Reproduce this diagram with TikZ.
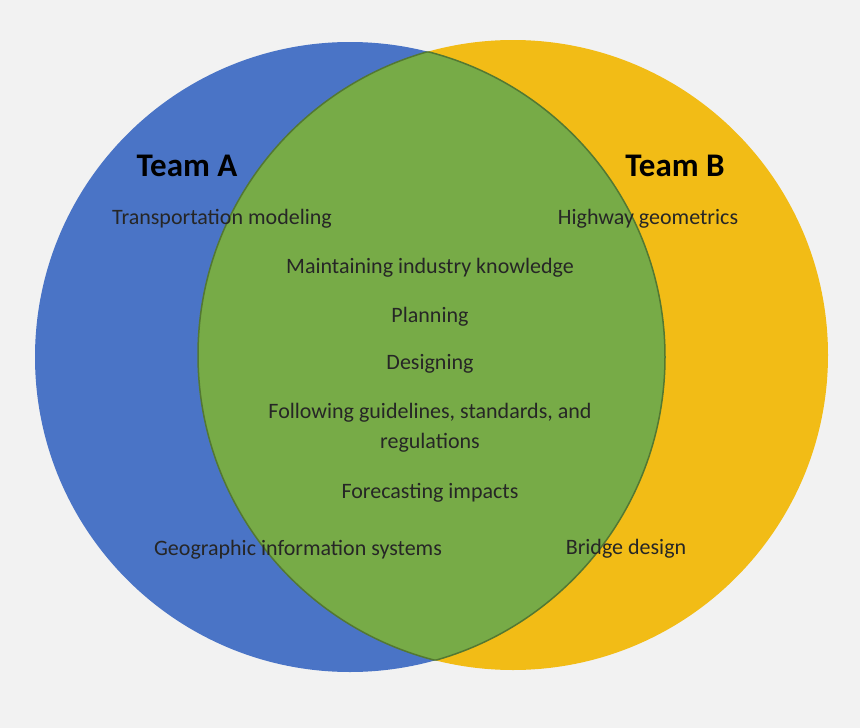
\documentclass[tikz,border=0pt]{standalone}
\usepackage{fontspec}
\setmainfont{Carlito}
\definecolor{bgGray}{HTML}{F2F2F2}
\definecolor{teamBlue}{HTML}{4A74C6}
\definecolor{teamYellow}{HTML}{F2BC16}
\definecolor{shareGreen}{HTML}{77AB47}
\tikzset{
  item/.style={font=\fontsize{22}{26}\selectfont, text=black!85},
  team/.style={font=\fontsize{33}{38}\selectfont\bfseries, text=black}
}
\begin{document}
\begin{tikzpicture}[x=1pt,y=-1pt]

	% Background
	\fill[bgGray] (0,0) rectangle (860,728);
	\useasboundingbox (0,0) rectangle (860,728);
	% Two circles
	\fill[teamYellow] (513,355) circle (315);
	\fill[teamBlue] (350,357) circle (315);
	% Overlap
	\begin{scope}
		\clip (513,355) circle (315);
		\fill[shareGreen] (350,357) circle (315);
		\draw[shareGreen!70!black, line width=1.5] (350,357) circle (315);
	\end{scope}
	\begin{scope}
		\clip (350,357) circle (315);
		\draw[shareGreen!70!black, line width=1.5] (513,355) circle (315);
	\end{scope}
	% Team labels
	\node[team] (teamA) at (187,166) {Team A};
	\node[team] (teamB) at (675,166) {Team B};
	% Skills
	\node[item] (transport) at (222,219) {Transportation modeling};
	\node[item] (highway) at (648,219) {Highway geometrics};
	\node[item] (knowledge) at (430,268) {Maintaining industry knowledge};
	\node[item] (planning) at (430,317) {Planning};
	\node[item] (designing) at (430,364) {Designing};
	\node[item, align=center] (guidelines) at (430,428) {Following guidelines, standards, and\\[4pt]regulations};
	\node[item] (forecast) at (430,493) {Forecasting impacts};
	\node[item] (gis) at (298,550) {Geographic information systems};
	\node[item] (bridge) at (626,549) {Bridge design};

\end{tikzpicture}
\end{document}
